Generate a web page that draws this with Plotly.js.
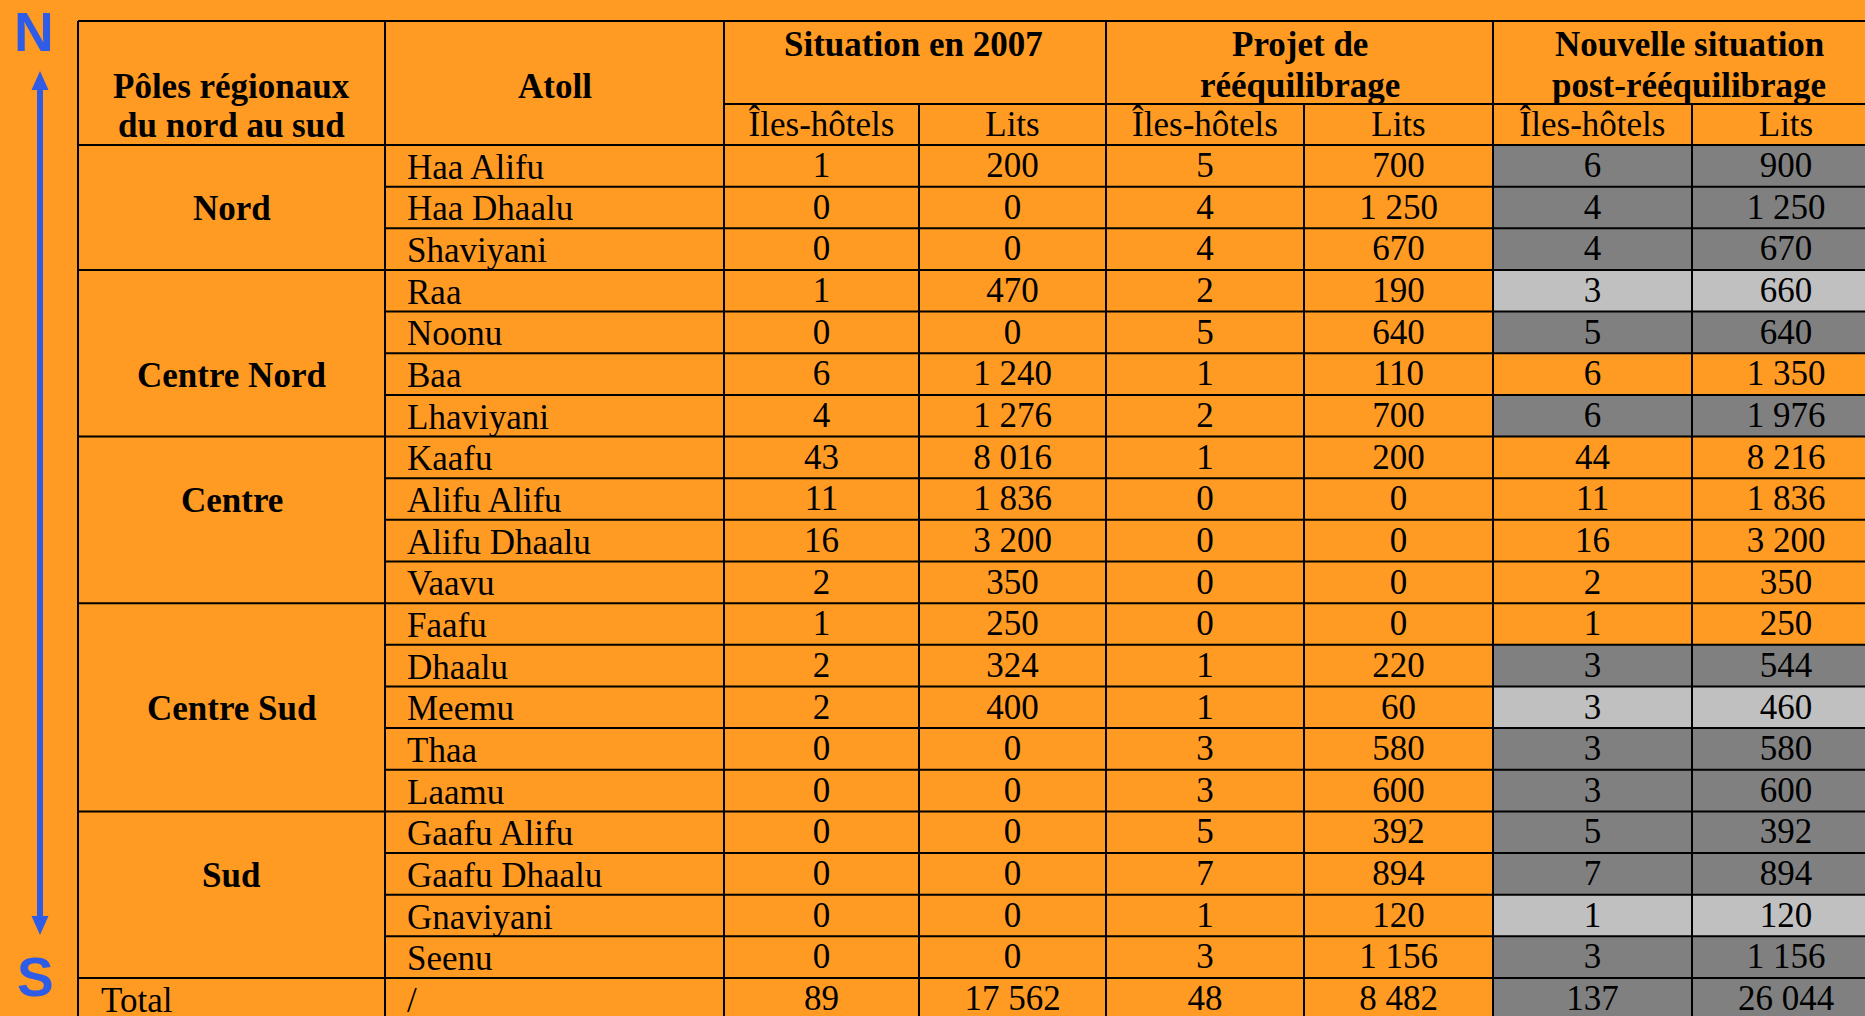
<!DOCTYPE html>
<html>
<head>
<meta charset="utf-8">
<script src="https://cdn.plot.ly/plotly-3.0.1.min.js"></script>
<style>html,body{margin:0;padding:0;background:#FF9A22;}#chart{width:1865px;height:1016px;}</style>
</head>
<body>
<div id="chart"></div>
<script>
// ---------- DATA ----------
const regions = ['Nord', 'Centre Nord', 'Centre', 'Centre Sud', 'Sud'];
const regionSizes = [3, 4, 4, 5, 4];
const atolls = ['Haa Alifu', 'Haa Dhaalu', 'Shaviyani', 'Raa', 'Noonu', 'Baa', 'Lhaviyani',
  'Kaafu', 'Alifu Alifu', 'Alifu Dhaalu', 'Vaavu', 'Faafu', 'Dhaalu', 'Meemu', 'Thaa', 'Laamu',
  'Gaafu Alifu', 'Gaafu Dhaalu', 'Gnaviyani', 'Seenu'];
const iles2007   = [1, 0, 0, 1, 0, 6, 4, 43, 11, 16, 2, 1, 2, 2, 0, 0, 0, 0, 0, 0];
const lits2007   = [200, 0, 0, 470, 0, 1240, 1276, 8016, 1836, 3200, 350, 250, 324, 400, 0, 0, 0, 0, 0, 0];
const ilesProjet = [5, 4, 4, 2, 5, 1, 2, 1, 0, 0, 0, 0, 1, 1, 3, 3, 5, 7, 1, 3];
const litsProjet = [700, 1250, 670, 190, 640, 110, 700, 200, 0, 0, 0, 0, 220, 60, 580, 600, 392, 894, 120, 1156];
const ilesNouv   = [6, 4, 4, 3, 5, 6, 6, 44, 11, 16, 2, 1, 3, 3, 3, 3, 5, 7, 1, 3];
const litsNouv   = [900, 1250, 670, 660, 640, 1350, 1976, 8216, 1836, 3200, 350, 250, 544, 460, 580, 600, 392, 894, 120, 1156];
const totalLabel = 'Total';
const totalAtoll = '/';
const totals     = [89, 17562, 48, 8482, 137, 26044];
// highlight of the "Nouvelle situation" cells: d = dark grey, l = light grey, n = none
const highlight  = ['d', 'd', 'd', 'l', 'd', 'n', 'd', 'n', 'n', 'n', 'n', 'n', 'd', 'l', 'd', 'd', 'd', 'd', 'l', 'd'];
const totalHighlight = 'd';
const headerRegion = ['Pôles régionaux', 'du nord au sud'];
const headerAtoll = 'Atoll';
const groupHeaders = [['Situation en 2007'], ['Projet de', 'rééquilibrage'], ['Nouvelle situation', 'post-rééquilibrage']];
const subHeaders = ['Îles-hôtels', 'Lits', 'Îles-hôtels', 'Lits', 'Îles-hôtels', 'Lits'];

// ---------- LAYOUT CONSTANTS ----------
const W = 1865, H = 1016;
const colEdges = [78, 385, 724, 919, 1106, 1304, 1493, 1692, 1880];
const groupCenters = [913, 1300, 1689];
const regionLabelRowOffset = [1, 2, 1, 2, 1]; // row (within group) where the region label sits
const tableTop = 21, subTop = 104, headBottom = 145, rowH = 41.65;
const ORANGE = '#FF9A22', DARK = '#808080', LIGHT = '#C0C0C0', BLUE = '#2F5CE6';
const FONT = 'Liberation Serif, Times New Roman, serif';
const FS = 35;
const TXT_DY = 2.5;

const nRows = atolls.length;
const rowTop = i => headBottom + i * rowH;
const rowMid = i => headBottom + (i + 0.5) * rowH;
const tableBottom = rowTop(nRows + 1);
const colMid = c => (colEdges[c] + colEdges[c + 1]) / 2;

function fmt(v) {
  return String(v).replace(/\B(?=(\d{3})+(?!\d))/g, '\u00a0');
}

const shapes = [];
// grey fills
const hl = highlight.concat([totalHighlight]);
hl.forEach((h, i) => {
  if (h === 'n') return;
  shapes.push({type: 'rect', xref: 'x', yref: 'y', x0: colEdges[6], x1: W + 20, y0: rowTop(i), y1: rowTop(i + 1),
    fillcolor: h === 'd' ? DARK : LIGHT, line: {width: 0}, layer: 'below'});
});
const ln = (x0, y0, x1, y1) => shapes.push({type: 'line', xref: 'x', yref: 'y', x0, y0, x1, y1,
  line: {color: '#000', width: 2}, layer: 'below'});
// horizontal lines
ln(colEdges[0], tableTop, W + 20, tableTop);
ln(colEdges[2], subTop, W + 20, subTop);
ln(colEdges[0], headBottom, W + 20, headBottom);
const groupEnds = new Set();
let acc = 0;
regionSizes.forEach(s => { acc += s; groupEnds.add(acc); });
for (let i = 1; i <= nRows; i++) {
  ln(groupEnds.has(i) ? colEdges[0] : colEdges[1], rowTop(i), W + 20, rowTop(i));
}
// vertical lines
[0, 1, 2, 4, 6].forEach(c => ln(colEdges[c], tableTop, colEdges[c], tableBottom));
[3, 5, 7].forEach(c => ln(colEdges[c], subTop, colEdges[c], tableBottom));

// N-S arrow
shapes.push({type: 'line', xref: 'x', yref: 'y', x0: 40, y0: 86, x1: 40, y1: 920, line: {color: BLUE, width: 6}});
shapes.push({type: 'path', xref: 'x', yref: 'y', path: 'M 31.5 90 L 40 71 L 48.5 90 Z', fillcolor: BLUE, line: {width: 0}});
shapes.push({type: 'path', xref: 'x', yref: 'y', path: 'M 31.5 916 L 40 935 L 48.5 916 Z', fillcolor: BLUE, line: {width: 0}});

// ---------- TEXT ----------
const traces = [];
const textFont = {family: FONT, size: FS, color: '#000'};
function centeredTrace(xs, ys, texts) {
  traces.push({type: 'scatter', mode: 'text', x: xs, y: ys, text: texts, textposition: 'middle center',
    textfont: textFont, hoverinfo: 'skip', cliponaxis: false, showlegend: false});
}
const series = [iles2007, lits2007, ilesProjet, litsProjet, ilesNouv, litsNouv];
const rowYs = atolls.map((_, i) => rowMid(i) + TXT_DY).concat([rowMid(nRows) + TXT_DY]);
series.forEach((arr, k) => {
  const c = k + 2;
  centeredTrace(rowYs.map(() => colMid(c)), rowYs, arr.concat([totals[k]]).map(fmt));
});
// sub headers
centeredTrace(subHeaders.map((_, k) => colMid(k + 2)), subHeaders.map(() => 127), subHeaders);

const annotations = [];
function ann(x, y, text, xanchor, bold) {
  annotations.push({xref: 'x', yref: 'y', x, y, text: bold ? '<b>' + text + '</b>' : text, showarrow: false,
    xanchor, yanchor: 'middle', font: textFont, align: 'center'});
}
// atoll names
atolls.forEach((a, i) => ann(colEdges[1] + 20, rowMid(i) + 1.5, a, 'left', false));
ann(colEdges[0] + 21, rowMid(nRows) + 1.5, totalLabel, 'left', false);
ann(colEdges[1] + 20, rowMid(nRows) + 1.5, totalAtoll, 'left', false);
// region names
let start = 0;
regions.forEach((r, g) => {
  ann(colMid(0), rowMid(start + regionLabelRowOffset[g]) + 1.5, r, 'center', true);
  start += regionSizes[g];
});
// headers
ann(colMid(0), 86, headerRegion[0], 'center', true);
ann(colMid(0), 125.5, headerRegion[1], 'center', true);
ann(colMid(1), 86, headerAtoll, 'center', true);
groupHeaders.forEach((lines, g) => {
  lines.forEach((t, j) => ann(groupCenters[g], 44 + j * 41, t, 'center', true));
});
// N / S
annotations.push({xref: 'x', yref: 'y', x: 34, y: 32, text: '<b>N</b>', showarrow: false, xanchor: 'center', yanchor: 'middle',
  font: {family: 'Liberation Sans, Arial, sans-serif', size: 55, color: BLUE}});
annotations.push({xref: 'x', yref: 'y', x: 35, y: 977, text: '<b>S</b>', showarrow: false, xanchor: 'center', yanchor: 'middle',
  font: {family: 'Liberation Sans, Arial, sans-serif', size: 55, color: BLUE}});

const layout = {
  width: W, height: H,
  margin: {l: 0, r: 0, t: 0, b: 0, pad: 0},
  paper_bgcolor: ORANGE, plot_bgcolor: ORANGE,
  xaxis: {range: [0, W], visible: false, fixedrange: true},
  yaxis: {range: [H, 0], visible: false, fixedrange: true},
  shapes, annotations, showlegend: false
};
Plotly.newPlot('chart', traces, layout, {displayModeBar: false, staticPlot: true});
</script>
</body>
</html>
